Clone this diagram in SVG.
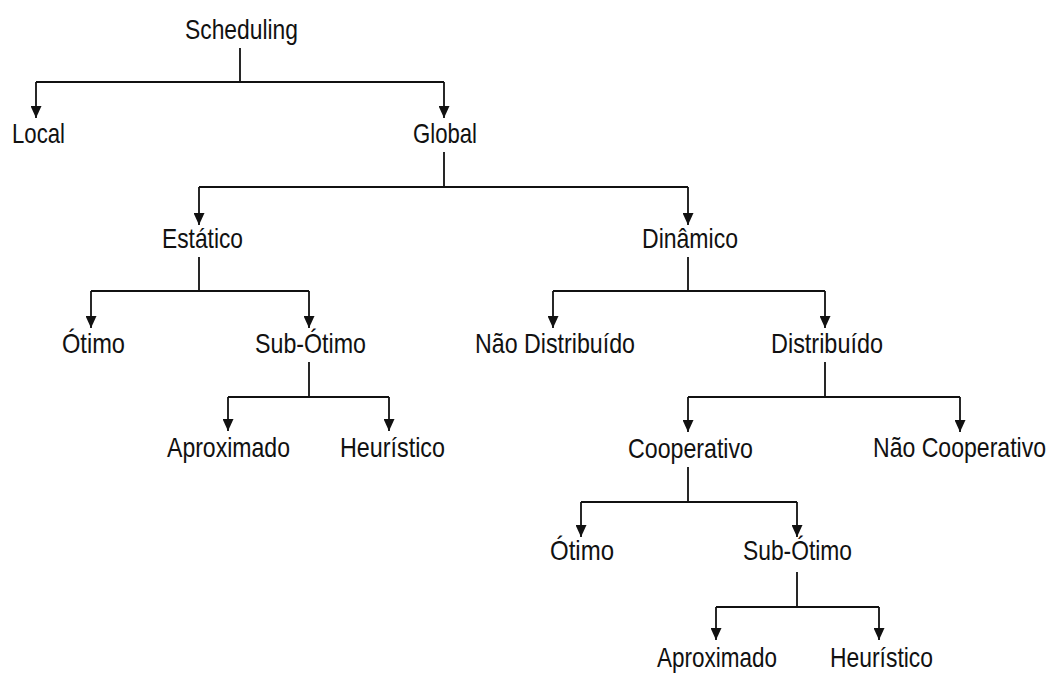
<svg xmlns="http://www.w3.org/2000/svg" width="1056" height="673" viewBox="0 0 1056 673">
<style>
text{font-family:"Liberation Sans",Arial,sans-serif;font-size:28px;fill:#111;}
.c{fill:none;stroke:#111;stroke-width:1.8;}
.a{fill:none;stroke:#111;stroke-width:1.8;marker-end:url(#ah);}
</style>
<defs>
<marker id="ah" viewBox="0 0 12 11" refX="12" refY="5.5" markerWidth="12" markerHeight="11" markerUnits="userSpaceOnUse" orient="auto">
<path d="M0,0 L12,5.5 L0,11 Z" fill="#111"/>
</marker>
</defs>
<rect width="1056" height="673" fill="#fff"/>
<g id="connectors">
<path class="c" d="M240,48 V82 M36,82 H444"/>
<path class="a" d="M36,82 V118"/>
<path class="a" d="M444,82 V118"/>
<path class="c" d="M444,152 V187 M199,187 H688"/>
<path class="a" d="M199,187 V225"/>
<path class="a" d="M688,187 V225"/>
<path class="c" d="M199,257 V291 M91,291 H309"/>
<path class="a" d="M91,291 V328"/>
<path class="a" d="M309,291 V328"/>
<path class="c" d="M309,362 V397 M228,397 H389"/>
<path class="a" d="M228,397 V431"/>
<path class="a" d="M389,397 V431"/>
<path class="c" d="M688,257 V291 M553,291 H825"/>
<path class="a" d="M553,291 V328"/>
<path class="a" d="M825,291 V328"/>
<path class="c" d="M825,362 V397 M688,397 H960"/>
<path class="a" d="M688,397 V432"/>
<path class="a" d="M960,397 V432"/>
<path class="c" d="M688,467 V502 M581,502 H797"/>
<path class="a" d="M581,502 V537"/>
<path class="a" d="M797,502 V537"/>
<path class="c" d="M797,572 V607 M716,607 H879"/>
<path class="a" d="M716,607 V640"/>
<path class="a" d="M879,607 V640"/>
</g>
<g id="scheduling"><text x="185" y="39" textLength="113" lengthAdjust="spacingAndGlyphs">Scheduling</text></g>
<g id="local"><text x="12" y="143" textLength="53" lengthAdjust="spacingAndGlyphs">Local</text></g>
<g id="global"><text x="413" y="143" textLength="64" lengthAdjust="spacingAndGlyphs">Global</text></g>
<g id="estatico"><text x="162" y="248" textLength="81" lengthAdjust="spacingAndGlyphs">Estático</text></g>
<g id="dinamico"><text x="642" y="248" textLength="96" lengthAdjust="spacingAndGlyphs">Dinâmico</text></g>
<g id="otimo1"><text x="62" y="353" textLength="63" lengthAdjust="spacingAndGlyphs">Ótimo</text></g>
<g id="subotimo1"><text x="255" y="353" textLength="111" lengthAdjust="spacingAndGlyphs">Sub-Ótimo</text></g>
<g id="naodistribuido"><text x="475" y="353" textLength="160" lengthAdjust="spacingAndGlyphs">Não Distribuído</text></g>
<g id="distribuido"><text x="771" y="353" textLength="112" lengthAdjust="spacingAndGlyphs">Distribuído</text></g>
<g id="aproximado1"><text x="167" y="457" textLength="123" lengthAdjust="spacingAndGlyphs">Aproximado</text></g>
<g id="heuristico1"><text x="340" y="457" textLength="105" lengthAdjust="spacingAndGlyphs">Heurístico</text></g>
<g id="cooperativo"><text x="628" y="458" textLength="125" lengthAdjust="spacingAndGlyphs">Cooperativo</text></g>
<g id="naocooperativo" transform="translate(873,457) scale(0.824,1)"><text x="0" y="0">Não Cooperativo</text></g>
<g id="otimo2"><text x="550" y="560" textLength="64" lengthAdjust="spacingAndGlyphs">Ótimo</text></g>
<g id="subotimo2"><text x="743" y="560" textLength="109" lengthAdjust="spacingAndGlyphs">Sub-Ótimo</text></g>
<g id="aproximado2"><text x="657" y="667" textLength="120" lengthAdjust="spacingAndGlyphs">Aproximado</text></g>
<g id="heuristico2"><text x="830" y="667" textLength="103" lengthAdjust="spacingAndGlyphs">Heurístico</text></g>
</svg>
